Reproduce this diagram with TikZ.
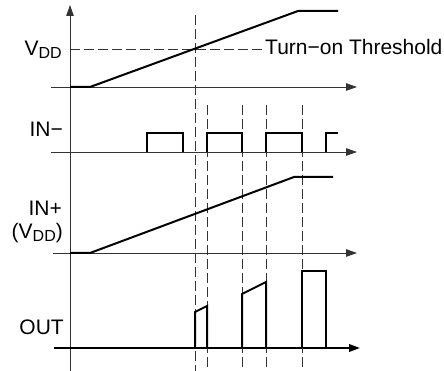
\documentclass[tikz,border=0pt]{standalone}
\usepackage{fontspec}
\setmainfont{Liberation Sans}
\usetikzlibrary{arrows.meta}
\newcommand{\dd}{\raisebox{-2.5pt}{\fontsize{16}{16}\selectfont DD}}
\begin{document}
\begin{tikzpicture}[x=1pt,y=-1pt,
  axis/.style={line width=0.9pt,black!80},
  axarrow/.style={axis,-{Triangle[length=11pt,width=7.5pt]}},
  sig/.style={line width=2pt,black,line join=miter},
  guide/.style={line width=0.9pt,black!80,dash pattern=on 10pt off 4pt},
  lbl/.style={font=\fontsize{21}{23}\selectfont,inner sep=0pt,anchor=base east}]
\useasboundingbox (0,0) rectangle (444,371);
% y axis
\draw[axarrow] (70,371) -- (70,5);
% horizontal axes
\draw[axarrow] (51,87) -- (357,87);
\draw[axarrow] (51,152) -- (357,152);
\draw[axarrow] (53,253) -- (357,253);
\draw[axarrow,line width=2pt,black] (54,348) -- (360,348);
% guides
\draw[guide] (70,49) -- (262,49);
\draw[guide] (195,15) -- (195,371);
\foreach \x in {207,242,266,302} \draw[guide] (\x,105) -- (\x,371);
% signals
\draw[sig] (70,87) -- (90,87) -- (298,11) -- (338,11);
\draw[sig] (147,152) -- (147,133) -- (183,133) -- (183,152);
\draw[sig] (207,152) -- (207,133) -- (242,133) -- (242,152);
\draw[sig] (266,152) -- (266,133) -- (302,133) -- (302,152);
\draw[sig] (326,152) -- (326,133) -- (338,133);
\draw[sig] (70,253) -- (90,253) -- (294,177) -- (333,177);
\draw[sig] (195,348) -- (195,312) -- (207,306) -- (207,348);
\draw[sig] (242,348) -- (242,294) -- (266,282) -- (266,348);
\draw[sig] (302,348) -- (302,271) -- (326,271) -- (326,348);
% labels
\node[lbl] (vdd) at (62,56) {V\dd};
\node[font=\fontsize{21}{23}\selectfont,inner sep=0pt,anchor=base west] (thr) at (265,55) {Turn−on Threshold};
\node[lbl] (inm) at (63,137) {IN−};
\node[lbl] (inp) at (62,216) {IN+};
\node[lbl] (inpv) at (63,239) {(V\dd)};
\node[lbl] (out) at (64,334) {OUT};
\end{tikzpicture}
\end{document}
